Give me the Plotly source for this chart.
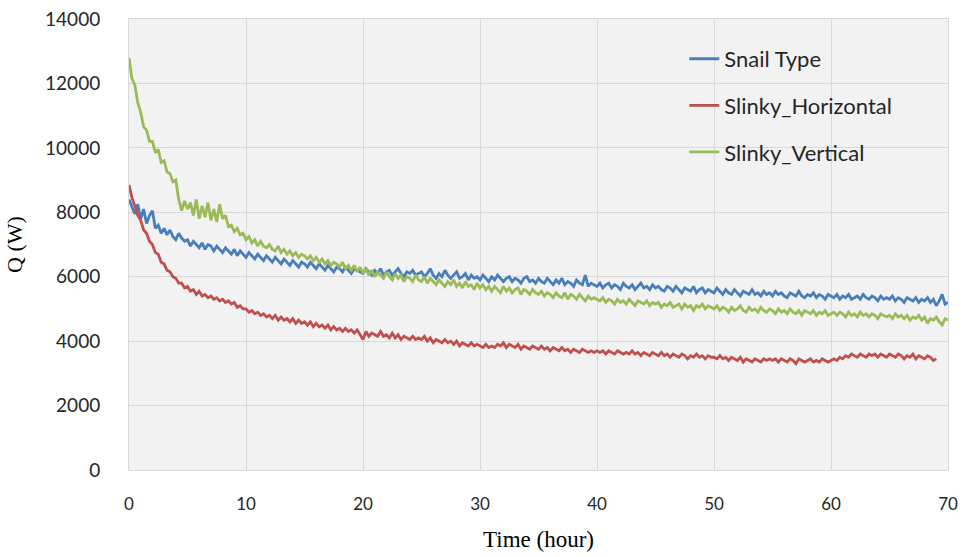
import plotly.graph_objects as go

# sampling times in hours (0.25 h step)
time_h = [
    0.0, 0.25, 0.5, 0.75, 1.0, 1.25, 1.5, 1.75, 2.0, 2.25, 2.5, 2.75, 3.0, 3.25, 3.5, 3.75, 4.0, 4.25, 4.5, 4.75,
    5.0, 5.25, 5.5, 5.75, 6.0, 6.25, 6.5, 6.75, 7.0, 7.25, 7.5, 7.75, 8.0, 8.25, 8.5, 8.75, 9.0, 9.25, 9.5, 9.75,
    10.0, 10.25, 10.5, 10.75, 11.0, 11.25, 11.5, 11.75, 12.0, 12.25, 12.5, 12.75, 13.0, 13.25, 13.5, 13.75, 14.0, 14.25, 14.5, 14.75,
    15.0, 15.25, 15.5, 15.75, 16.0, 16.25, 16.5, 16.75, 17.0, 17.25, 17.5, 17.75, 18.0, 18.25, 18.5, 18.75, 19.0, 19.25, 19.5, 19.75,
    20.0, 20.25, 20.5, 20.75, 21.0, 21.25, 21.5, 21.75, 22.0, 22.25, 22.5, 22.75, 23.0, 23.25, 23.5, 23.75, 24.0, 24.25, 24.5, 24.75,
    25.0, 25.25, 25.5, 25.75, 26.0, 26.25, 26.5, 26.75, 27.0, 27.25, 27.5, 27.75, 28.0, 28.25, 28.5, 28.75, 29.0, 29.25, 29.5, 29.75,
    30.0, 30.25, 30.5, 30.75, 31.0, 31.25, 31.5, 31.75, 32.0, 32.25, 32.5, 32.75, 33.0, 33.25, 33.5, 33.75, 34.0, 34.25, 34.5, 34.75,
    35.0, 35.25, 35.5, 35.75, 36.0, 36.25, 36.5, 36.75, 37.0, 37.25, 37.5, 37.75, 38.0, 38.25, 38.5, 38.75, 39.0, 39.25, 39.5, 39.75,
    40.0, 40.25, 40.5, 40.75, 41.0, 41.25, 41.5, 41.75, 42.0, 42.25, 42.5, 42.75, 43.0, 43.25, 43.5, 43.75, 44.0, 44.25, 44.5, 44.75,
    45.0, 45.25, 45.5, 45.75, 46.0, 46.25, 46.5, 46.75, 47.0, 47.25, 47.5, 47.75, 48.0, 48.25, 48.5, 48.75, 49.0, 49.25, 49.5, 49.75,
    50.0, 50.25, 50.5, 50.75, 51.0, 51.25, 51.5, 51.75, 52.0, 52.25, 52.5, 52.75, 53.0, 53.25, 53.5, 53.75, 54.0, 54.25, 54.5, 54.75,
    55.0, 55.25, 55.5, 55.75, 56.0, 56.25, 56.5, 56.75, 57.0, 57.25, 57.5, 57.75, 58.0, 58.25, 58.5, 58.75, 59.0, 59.25, 59.5, 59.75,
    60.0, 60.25, 60.5, 60.75, 61.0, 61.25, 61.5, 61.75, 62.0, 62.25, 62.5, 62.75, 63.0, 63.25, 63.5, 63.75, 64.0, 64.25, 64.5, 64.75,
    65.0, 65.25, 65.5, 65.75, 66.0, 66.25, 66.5, 66.75, 67.0, 67.25, 67.5, 67.75, 68.0, 68.25, 68.5, 68.75, 69.0, 69.25, 69.5, 69.75,
    70.0]

snail_type = [
    8400, 8200, 7950, 8250, 7800, 8100, 7650, 7900, 8050, 7500, 7600, 7350, 7500, 7300, 7450, 7250, 7150, 7350, 7200, 7100,
    7150, 6950, 7100, 7000, 6900, 7050, 6850, 7000, 6950, 6800, 6950, 6850, 6750, 6900, 6800, 6700, 6850, 6650, 6800, 6700,
    6600, 6750, 6650, 6550, 6700, 6600, 6500, 6650, 6550, 6450, 6600, 6500, 6400, 6550, 6450, 6350, 6500, 6400, 6300, 6450,
    6400, 6300, 6450, 6350, 6250, 6400, 6300, 6200, 6350, 6250, 6150, 6300, 6250, 6150, 6300, 6200, 6100, 6250, 6200, 6150,
    6100, 6250, 6150, 6050, 6200, 6100, 6250, 6050, 6150, 6200, 6050, 6150, 6250, 6100, 6000, 6150, 6100, 6200, 6050, 6100,
    6150, 6000, 6100, 6250, 6050, 5950, 6100, 6000, 6200, 6050, 5950, 6050, 6150, 5950, 6000, 6100, 5900, 6050, 5950, 6000,
    5900, 6050, 5950, 5850, 6000, 5900, 6050, 5950, 5850, 5950, 6000, 5850, 5950, 5900, 5800, 5950, 6000, 5850, 5900, 5800,
    5950, 5850, 5800, 5950, 5850, 5750, 5900, 5800, 5950, 5750, 5850, 5800, 5700, 5900, 5800, 5750, 6050, 5700, 5800, 5750,
    5700, 5800, 5650, 5750, 5800, 5650, 5750, 5700, 5600, 5800, 5700, 5650, 5750, 5600, 5700, 5800, 5650, 5700, 5600, 5750,
    5650, 5700, 5600, 5550, 5700, 5650, 5550, 5700, 5600, 5500, 5650, 5600, 5550, 5700, 5500, 5600, 5650, 5500, 5600, 5550,
    5500, 5650, 5550, 5450, 5600, 5500, 5450, 5600, 5500, 5400, 5550, 5500, 5450, 5600, 5450, 5500, 5400, 5550, 5450, 5500,
    5400, 5550, 5450, 5500, 5400, 5350, 5500, 5450, 5400, 5550, 5400, 5350, 5450, 5400, 5500, 5350, 5450, 5400, 5300, 5450,
    5400, 5350, 5450, 5300, 5400, 5350, 5450, 5300, 5350, 5400, 5300, 5450, 5350, 5300, 5400, 5350, 5250, 5400, 5300, 5350,
    5300, 5400, 5250, 5350, 5300, 5200, 5350, 5300, 5250, 5350, 5200, 5300, 5250, 5350, 5200, 5300, 5100, 5250, 5450, 5150,
    5200]

slinky_horizontal = [
    8850, 8450, 8200, 7900, 7750, 7450, 7350, 7100, 7000, 6750, 6700, 6450, 6400, 6200, 6150, 6000, 5950, 5800, 5800, 5650,
    5700, 5550, 5600, 5450, 5550, 5400, 5450, 5350, 5400, 5300, 5350, 5250, 5300, 5200, 5250, 5150, 5200, 5050, 5100, 5000,
    5000, 4900, 4950, 4850, 4900, 4800, 4850, 4750, 4800, 4700, 4800, 4650, 4750, 4650, 4700, 4600, 4700, 4550, 4650, 4550,
    4600, 4500, 4600, 4450, 4550, 4450, 4500, 4400, 4500, 4350, 4450, 4350, 4400, 4300, 4400, 4300, 4350, 4250, 4350, 4200,
    4050, 4300, 4150, 4250, 4200, 4150, 4300, 4150, 4200, 4100, 4250, 4100, 4200, 4050, 4150, 4100, 4050, 4150, 4050, 4100,
    4050, 4150, 4000, 4100, 3950, 4050, 4000, 3950, 4050, 3950, 4000, 3900, 4000, 3850, 3950, 3900, 3850, 3950, 3850, 3900,
    3850, 3800, 3900, 3800, 3850, 3800, 3900, 3850, 3950, 3800, 3900, 3850, 3800, 3900, 3750, 3850, 3800, 3750, 3850, 3800,
    3750, 3850, 3750, 3800, 3700, 3800, 3750, 3700, 3800, 3700, 3750, 3650, 3750, 3700, 3650, 3750, 3700, 3650, 3700, 3650,
    3700, 3650, 3700, 3600, 3700, 3650, 3600, 3700, 3650, 3600, 3650, 3600, 3700, 3600, 3650, 3550, 3650, 3600, 3550, 3650,
    3600, 3550, 3650, 3550, 3600, 3500, 3600, 3550, 3500, 3600, 3550, 3450, 3550, 3500, 3600, 3500, 3550, 3450, 3550, 3500,
    3500, 3450, 3550, 3450, 3500, 3400, 3500, 3450, 3400, 3500, 3350, 3450, 3400, 3350, 3450, 3400, 3350, 3450, 3400, 3450,
    3400, 3450, 3350, 3450, 3400, 3350, 3450, 3400, 3300, 3450, 3400, 3350, 3400, 3450, 3350, 3400, 3350, 3450, 3400, 3350,
    3400, 3450, 3400, 3500, 3450, 3550, 3500, 3600, 3550, 3500, 3600, 3550, 3500, 3600, 3550, 3600, 3500, 3600, 3550, 3500,
    3600, 3550, 3500, 3600, 3550, 3450, 3550, 3500, 3600, 3450, 3550, 3500, 3450, 3550, 3500, 3400,
    3450]

slinky_vertical = [
    12800, 12150, 11950, 11400, 11100, 10650, 10550, 10200, 10200, 9850, 9950, 9550, 9600, 9250, 9200, 8950, 9000, 8400, 8050, 8350,
    8100, 8300, 7900, 8400, 7800, 8200, 7850, 8300, 7750, 8100, 7700, 8250, 7800, 7900, 7550, 7600, 7400, 7500, 7300, 7350,
    7150, 7250, 7050, 7150, 6950, 7100, 6950, 6900, 7000, 6850, 6800, 6950, 6750, 6850, 6700, 6800, 6650, 6750, 6600, 6700,
    6650, 6550, 6650, 6500, 6600, 6450, 6550, 6400, 6500, 6350, 6450, 6400, 6300, 6450, 6250, 6350, 6200, 6350, 6150, 6300,
    6100, 6250, 6050, 6200, 6000, 6150, 6050, 5950, 6150, 6000, 5900, 6100, 5950, 6050, 5850, 6000, 5950, 5850, 6050, 5900,
    5850, 6000, 5800, 5950, 5850, 5750, 5900, 5800, 5700, 5850, 5750, 5900, 5700, 5800, 5650, 5850, 5700, 5750, 5600, 5800,
    5650, 5750, 5600, 5700, 5550, 5700, 5600, 5500, 5700, 5550, 5650, 5500, 5600, 5650, 5450, 5600, 5550, 5450, 5600, 5500,
    5450, 5550, 5400, 5500, 5450, 5350, 5500, 5400, 5350, 5500, 5300, 5450, 5400, 5300, 5450, 5350, 5250, 5400, 5300, 5350,
    5300, 5250, 5350, 5200, 5300, 5250, 5150, 5300, 5200, 5250, 5150, 5300, 5200, 5100, 5250, 5200, 5150, 5250, 5100, 5200,
    5150, 5200, 5050, 5150, 5100, 5200, 5050, 5100, 5150, 5000, 5150, 5050, 5100, 4950, 5100, 5050, 5150, 5000, 5100, 5050,
    5000, 5100, 4950, 5050, 5000, 4900, 5050, 4950, 5000, 5100, 4950, 4900, 5050, 4950, 5000, 4900, 5050, 4950, 4900, 5000,
    4950, 4850, 5000, 4900, 4950, 4850, 5000, 4900, 4850, 4950, 4800, 4950, 4900, 4850, 4950, 4800, 4900, 4850, 4950, 4800,
    4850, 4900, 4800, 4900, 4850, 4750, 4900, 4800, 4850, 4750, 4900, 4800, 4850, 4750, 4850, 4800, 4700, 4850, 4800, 4750,
    4800, 4700, 4850, 4750, 4800, 4700, 4800, 4650, 4750, 4700, 4800, 4650, 4750, 4550, 4700, 4650, 4750, 4600, 4500, 4700,
    4650]

series_names = ["Snail Type", "Slinky_Horizontal", "Slinky_Vertical"]
series_colors = ["#4a7ebb", "#c0504d", "#9bbb59"]

fig = go.Figure()
fig.add_trace(go.Scatter(x=time_h, y=snail_type, mode="lines", name=series_names[0],
                         legendgroup="a", line=dict(color=series_colors[0], width=2.8)))
fig.add_trace(go.Scatter(x=time_h[:len(slinky_horizontal)], y=slinky_horizontal, mode="lines", name=series_names[1],
                         legendgroup="b", line=dict(color=series_colors[1], width=2.8)))
fig.add_trace(go.Scatter(x=time_h, y=slinky_vertical, mode="lines", name=series_names[2],
                         legendgroup="c", line=dict(color=series_colors[2], width=2.8)))

fig.update_layout(
    width=963, height=557,
    margin=dict(l=129, r=15, t=19, b=87),
    paper_bgcolor="white",
    plot_bgcolor="#f2f2f2",
    font=dict(family="Lato, Open Sans, sans-serif", size=17, color="#262626"),
    legend=dict(x=0.678, y=0.958, xanchor="left", yanchor="top",
                bgcolor="rgba(0,0,0,0)", tracegroupgap=15,
                font=dict(family="Lato, sans-serif", size=22, color="#262626")),
    xaxis=dict(range=[0, 70], dtick=10, tick0=0, showgrid=True, gridcolor="#d9d9d9", gridwidth=1,
               showline=True, linecolor="#d9d9d9", mirror=True, zeroline=False, ticks="",
               automargin=False, ticklabelstandoff=19, ticklabeloverflow="allow",
               tickfont=dict(family="Lato, sans-serif", size=17, color="#262626"),
               title=dict(text="Time (hour)", standoff=17,
                          font=dict(family="Liberation Serif, serif", size=23, color="#000000"))),
    yaxis=dict(range=[0, 14000], dtick=2000, tick0=0, tickformat="d", showgrid=True, gridcolor="#d9d9d9", gridwidth=1,
               showline=True, linecolor="#d9d9d9", mirror=True, zeroline=False, ticks="",
               automargin=False, ticklabelstandoff=24, ticklabeloverflow="allow",
               tickfont=dict(family="Lato, sans-serif", size=19, color="#262626"),
               title=dict(text="Q (W)", standoff=16,
                          font=dict(family="Liberation Serif, serif", size=22, color="#000000"))),
)

# remove the default 8px page margin so the figure fills the window exactly
fig.write_html("out.html", config={"displayModeBar": False},
               post_script="document.body.style.margin='0';document.body.style.overflow='hidden';")
